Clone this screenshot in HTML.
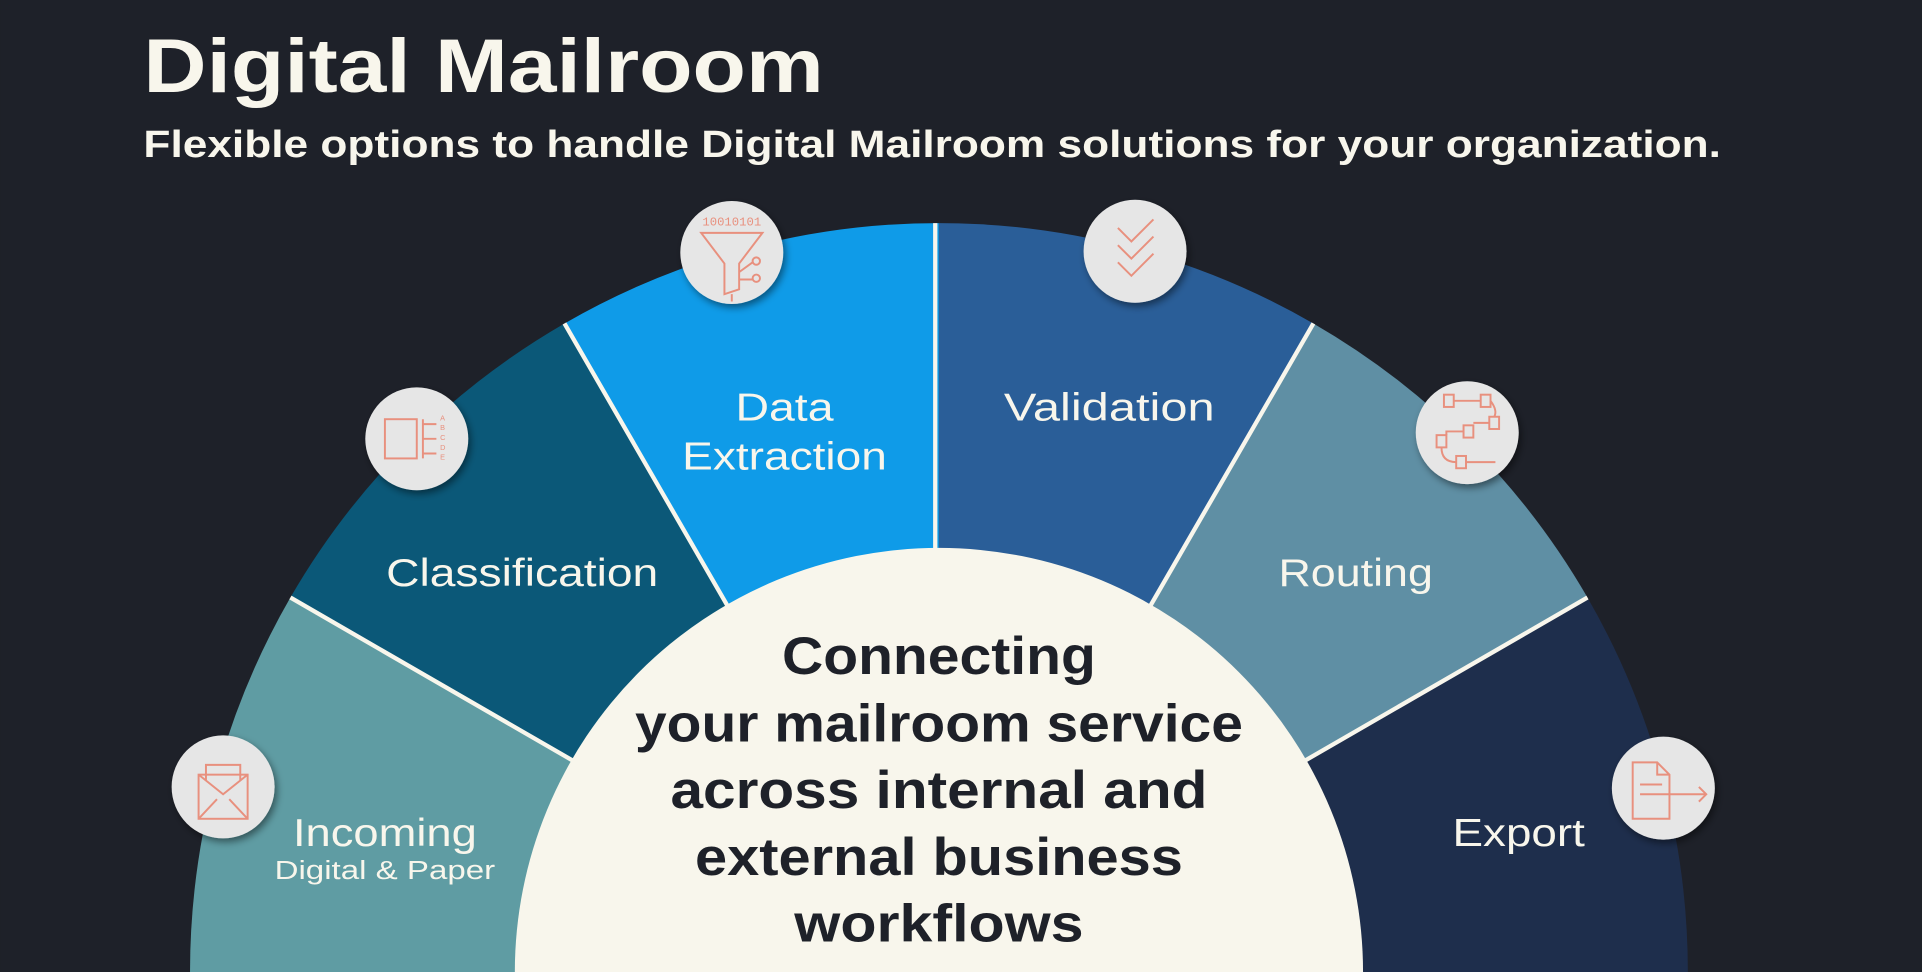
<!DOCTYPE html>
<html><head><meta charset="utf-8"><style>
html,body{margin:0;padding:0;background:#1e2129;width:1922px;height:972px;overflow:hidden;}
svg{display:block;}
</style></head><body>
<svg width="1922" height="972" viewBox="0 0 1568 793" xmlns="http://www.w3.org/2000/svg" font-family="Liberation Sans, sans-serif">
<defs>
<filter id="sh" x="-30%" y="-30%" width="160%" height="160%"><feDropShadow dx="2" dy="3" stdDeviation="3" flood-color="#000" flood-opacity="0.45"/></filter>
</defs>
<rect width="1568" height="793" fill="#1e2129"/>
<text x="117" y="75" font-size="62" font-weight="bold" fill="#f8f6ec" textLength="555" lengthAdjust="spacingAndGlyphs">Digital Mailroom</text>
<text x="117" y="128" font-size="31" font-weight="bold" fill="#f8f6ec" textLength="1287" lengthAdjust="spacingAndGlyphs">Flexible options to handle Digital Mailroom solutions for your organization.</text>
<path d="M766,793 L155,793 A611,611 0 0 1 236.9,487.5 Z" fill="#5f9ca3"/>
<path d="M766,793 L236.9,487.5 A611,611 0 0 1 460.5,263.9 Z" fill="#0b5878"/>
<path d="M766,793 L460.5,263.9 A611,611 0 0 1 766,182 Z" fill="#0f9be8"/>
<path d="M766,793 L766,182 A611,611 0 0 1 1071.5,263.9 Z" fill="#2a5e98"/>
<path d="M766,793 L1071.5,263.9 A611,611 0 0 1 1295.1,487.5 Z" fill="#5f8fa4"/>
<path d="M766,793 L1295.1,487.5 A611,611 0 0 1 1377,793 Z" fill="#1e2e4c"/>
<g stroke="#f8f6ec" stroke-width="3.5">
<line x1="766" y1="793" x2="236.9" y2="487.5"/>
<line x1="766" y1="793" x2="460.5" y2="263.9"/>
<line x1="763" y1="793" x2="763" y2="182"/>
<line x1="766" y1="793" x2="1071.5" y2="263.9"/>
<line x1="766" y1="793" x2="1295.1" y2="487.5"/>
</g>
<circle cx="766" cy="793" r="346" fill="#f8f6ec"/>
<g fill="#f8f6ec" font-size="32" text-anchor="middle">
<text x="314" y="690" textLength="150" lengthAdjust="spacingAndGlyphs">Incoming</text>
<text x="314" y="717" font-size="21" textLength="180" lengthAdjust="spacingAndGlyphs">Digital &amp; Paper</text>
<text x="426" y="478" textLength="222" lengthAdjust="spacingAndGlyphs">Classification</text>
<text x="640" y="343" textLength="80" lengthAdjust="spacingAndGlyphs">Data</text>
<text x="640" y="383" textLength="167" lengthAdjust="spacingAndGlyphs">Extraction</text>
<text x="905" y="343" textLength="172" lengthAdjust="spacingAndGlyphs">Validation</text>
<text x="1106" y="478" textLength="126" lengthAdjust="spacingAndGlyphs">Routing</text>
<text x="1239" y="690" textLength="108" lengthAdjust="spacingAndGlyphs">Export</text>
</g>
<g fill="#1e2129" font-size="43" font-weight="bold" text-anchor="middle">
<text x="766" y="550" textLength="256" lengthAdjust="spacingAndGlyphs">Connecting</text>
<text x="766" y="605" textLength="496" lengthAdjust="spacingAndGlyphs">your mailroom service</text>
<text x="766" y="659" textLength="438" lengthAdjust="spacingAndGlyphs">across internal and</text>
<text x="766" y="714" textLength="398" lengthAdjust="spacingAndGlyphs">external business</text>
<text x="766" y="768" textLength="236" lengthAdjust="spacingAndGlyphs">workflows</text>
</g>
<g filter="url(#sh)" fill="#e6e6e6">
<circle cx="182" cy="642" r="42"/>
<circle cx="340" cy="358" r="42"/>
<circle cx="597" cy="206" r="42"/>
<circle cx="926" cy="205" r="42"/>
<circle cx="1197" cy="353" r="42"/>
<circle cx="1357" cy="643" r="42"/>
</g>
<g fill="none" stroke="#e8907e" stroke-width="1.6">
<rect x="162" y="632" width="40" height="36"/>
<path d="M162,632 L182,648 L202,632 M162,668 L177,652 M202,668 L187,652 M168,637 V624 H196 V637"/>
<rect x="314" y="342" width="26" height="32"/>
<path d="M345,342 V374 M345,346 H356 M345,358 H356 M345,370 H356"/>
<path d="M572,190 H622 L603,215 V236 L591,240 V215 Z M597,240 V246 M603,222 L614,214 M603,228 L614,228"/>
<circle cx="617" cy="213" r="3"/><circle cx="617" cy="227" r="3"/>
<path d="M912,186 L923,197 L941,179 M912,200 L923,211 L941,193 M912,214 L923,225 L941,207"/>
<rect x="1178" y="322" width="8" height="10"/><rect x="1208" y="322" width="8" height="10"/>
<rect x="1194" y="347" width="8" height="10"/><rect x="1215" y="340" width="8" height="10"/>
<rect x="1172" y="355" width="8" height="10"/><rect x="1188" y="372" width="8" height="10"/>
<path d="M1186,327 H1208 M1216,327 Q1222,335 1219,340 M1215,345 H1202 M1194,352 H1180 V355 M1176,365 Q1176,377 1188,377 M1196,377 H1220"/>
<path d="M1332,622 H1352 L1362,632 V668 H1332 Z M1352,622 V632 H1362 M1338,640 H1356 M1338,648 H1356 M1356,648 H1392 M1386,642 L1392,648 L1386,654"/>
</g>
<text x="597" y="184" font-size="10" fill="#e8907e" text-anchor="middle" font-family="Liberation Mono, monospace">10010101</text>
<g font-size="6" fill="#e8907e">
<text x="359" y="343">A</text><text x="359" y="351">B</text><text x="359" y="359">C</text><text x="359" y="367">D</text><text x="359" y="375">E</text>
</g>
</svg>
</body></html>
